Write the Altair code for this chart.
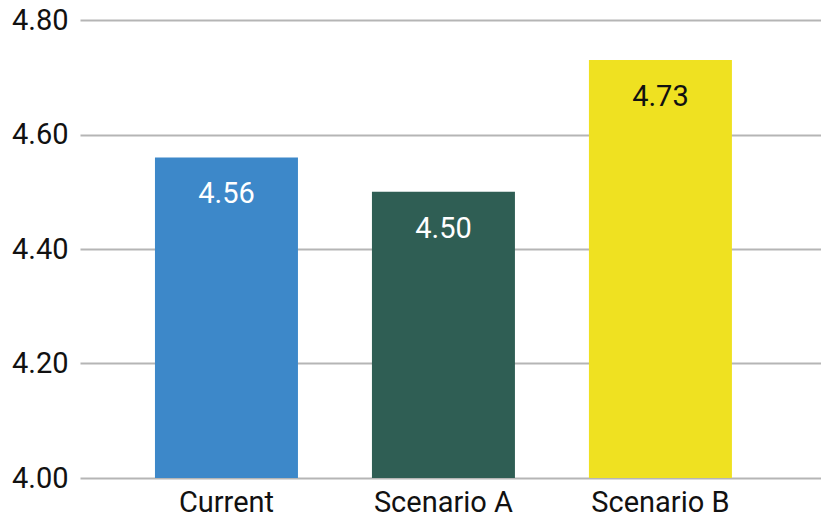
import altair as alt
import pandas as pd

# Scenario averages
categories = ["Current", "Scenario A", "Scenario B"]
values = [4.56, 4.50, 4.73]
bar_colors = ["#3d88c9", "#2f5e54", "#efe121"]
label_colors = ["#ffffff", "#ffffff", "#111111"]

df = pd.DataFrame({
    "scenario": categories,
    "value": values,
    "bar_color": bar_colors,
    "label_color": label_colors,
})

FONT = "Roboto"
SIZE = 29

x = alt.X(
    "scenario:N",
    sort=categories,
    title=None,
    scale=alt.Scale(paddingInner=0.341, paddingOuter=0.378, align=0.457),
    axis=alt.Axis(
        labelAngle=0, domain=False, ticks=False, labelPadding=10,
        labelFontSize=SIZE, labelFont=FONT, labelColor="#111111",
    ),
)
y = alt.Y(
    "value:Q",
    title=None,
    scale=alt.Scale(domain=[4.0, 4.8], nice=False, zero=False),
    axis=alt.Axis(
        values=[4.0, 4.2, 4.4, 4.6, 4.8], format=".2f", domain=False, ticks=False,
        labelPadding=12, labelFontSize=SIZE, labelFont=FONT, labelColor="#111111",
        gridColor="#b5b5b5", gridWidth=2,
    ),
)

bars = alt.Chart(df).mark_bar().encode(
    x=x,
    y=y,
    y2=alt.datum(4.0),
    color=alt.Color("bar_color:N", scale=None),
)

labels = alt.Chart(df).mark_text(
    baseline="top", dy=23, fontSize=SIZE, font=FONT,
).encode(
    x=alt.X("scenario:N", sort=categories),
    y="value:Q",
    text=alt.Text("value:Q", format=".2f"),
    color=alt.Color("label_color:N", scale=None),
)

chart = (
    alt.layer(bars, labels)
    .properties(
        width=741,
        height=458,
        autosize=alt.AutoSizeParams(type="none"),
        padding={"left": 80, "top": 20, "right": 0, "bottom": 42},
        background="#ffffff",
    )
    .configure_view(stroke=None)
)

chart.save("out.html", embed_options={"renderer": "svg", "actions": False})
